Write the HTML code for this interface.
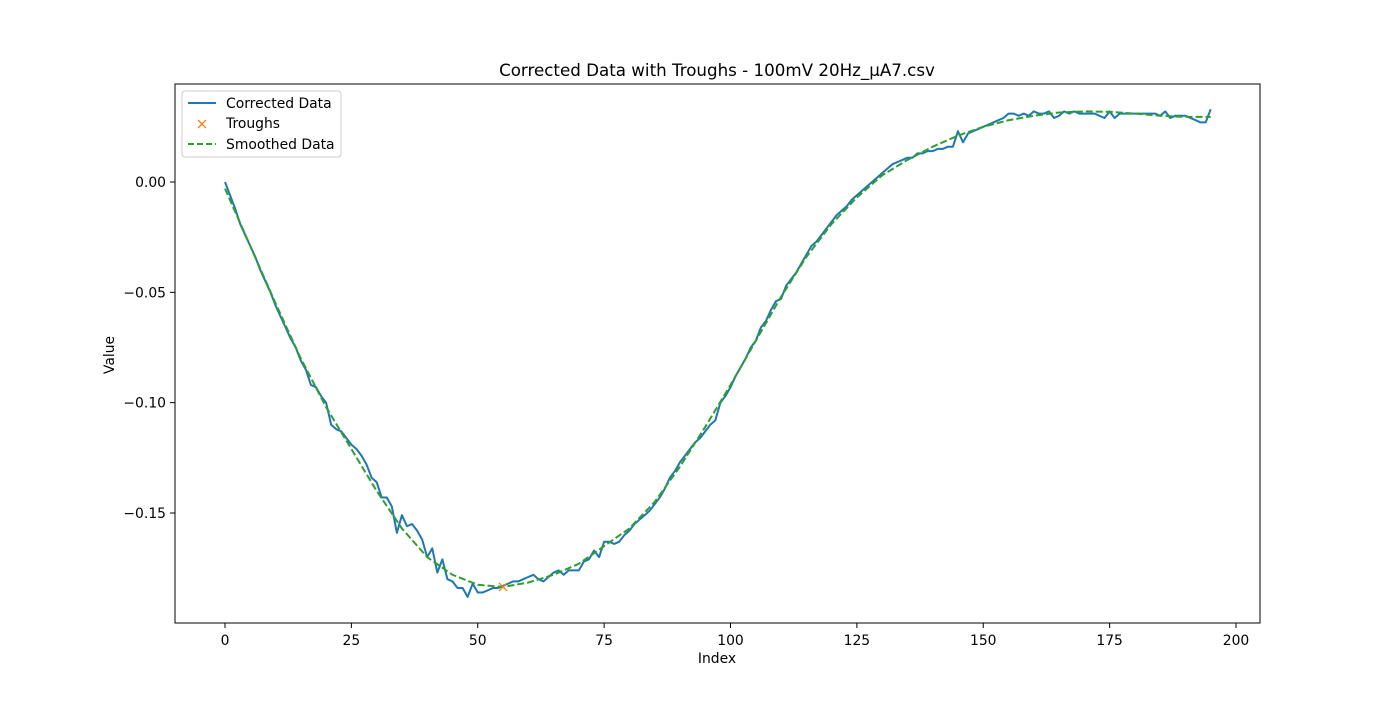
<!DOCTYPE html>
<html><head><meta charset="utf-8"><style>
body{margin:0;background:#fff;}
svg text{font-family:"DejaVu Sans","Liberation Sans",sans-serif;fill:#000;}
</style></head><body>
<svg id="chart" width="1400" height="700" xmlns="http://www.w3.org/2000/svg">
<rect width="1400" height="700" fill="#fff"/>
<text x="717" y="76" font-size="16.7" text-anchor="middle">Corrected Data with Troughs - 100mV 20Hz_µA7.csv</text>
<g id="series"></g>
<rect x="175" y="84" width="1085" height="539" fill="none" stroke="#000" stroke-width="1"/>
<g id="ticks"></g>
<text x="717" y="663" font-size="13.9" text-anchor="middle">Index</text>
<text x="114" y="355" font-size="13.9" text-anchor="middle" transform="rotate(-90 114 355)">Value</text>
<g>
<rect x="182" y="91" width="159" height="66" rx="3" fill="#fff" fill-opacity="0.8" stroke="#ccc"/>
<line x1="188" y1="103" x2="216" y2="103" stroke="#1f77b4" stroke-width="2"/>
<text x="226" y="108" font-size="13.9">Corrected Data</text>
<path d="M198,120L206,128M198,128L206,120" stroke="#ff7f0e" stroke-width="1.3"/>
<text x="226" y="128" font-size="13.9">Troughs</text>
<line x1="188" y1="144" x2="216" y2="144" stroke="#2ca02c" stroke-width="2" stroke-dasharray="6,3"/>
<text x="226" y="149" font-size="13.9">Smoothed Data</text>
</g>
</svg>
<script>
const corrected=[0.000,-0.006,-0.012,-0.019,-0.024,-0.029,-0.034,-0.040,-0.045,-0.050,
-0.056,-0.061,-0.066,-0.071,-0.075,-0.081,-0.085,-0.092,-0.093,-0.097,
-0.100,-0.110,-0.112,-0.113,-0.116,-0.119,-0.121,-0.124,-0.128,-0.134,
-0.136,-0.143,-0.143,-0.147,-0.159,-0.151,-0.156,-0.155,-0.158,-0.162,
-0.170,-0.166,-0.177,-0.171,-0.180,-0.181,-0.184,-0.184,-0.188,-0.182,
-0.186,-0.186,-0.185,-0.184,-0.184,-0.183,-0.182,-0.181,-0.181,-0.180,
-0.179,-0.178,-0.180,-0.181,-0.179,-0.177,-0.176,-0.178,-0.176,-0.176,
-0.176,-0.172,-0.171,-0.167,-0.170,-0.163,-0.163,-0.164,-0.163,-0.160,
-0.158,-0.155,-0.153,-0.151,-0.149,-0.146,-0.143,-0.139,-0.134,-0.131,
-0.127,-0.124,-0.121,-0.118,-0.116,-0.113,-0.110,-0.108,-0.100,-0.097,
-0.093,-0.088,-0.084,-0.080,-0.075,-0.072,-0.066,-0.063,-0.058,-0.054,
-0.053,-0.047,-0.044,-0.041,-0.037,-0.033,-0.029,-0.027,-0.024,-0.021,
-0.018,-0.015,-0.013,-0.011,-0.008,-0.006,-0.004,-0.002,0.000,0.002,
0.004,0.006,0.008,0.009,0.010,0.011,0.011,0.013,0.013,0.014,
0.014,0.015,0.015,0.016,0.016,0.023,0.018,0.022,0.023,0.024,
0.025,0.026,0.027,0.028,0.029,0.031,0.031,0.030,0.031,0.030,
0.032,0.031,0.031,0.032,0.029,0.030,0.032,0.031,0.032,0.031,
0.031,0.031,0.031,0.030,0.029,0.032,0.029,0.031,0.031,0.031,
0.031,0.031,0.031,0.031,0.031,0.030,0.032,0.029,0.030,0.030,
0.030,0.029,0.028,0.027,0.027,0.033];
const smoothX=[0,5,10,15,20,25,30,35,40,45,50,55,60,65,70,75,80,85,90,95,100,105,110,115,120,125,130,135,140,145,150,155,160,165,170,175,180,185,190,195];
const smoothY=[-0.003,-0.029,-0.055,-0.080,-0.102,-0.121,-0.140,-0.157,-0.170,-0.178,-0.1825,-0.1835,-0.1815,-0.178,-0.173,-0.165,-0.157,-0.145,-0.129,-0.111,-0.092,-0.072,-0.052,-0.034,-0.019,-0.007,0.003,0.010,0.016,0.021,0.025,0.028,0.030,0.0315,0.032,0.0318,0.031,0.030,0.0295,0.0295];
const troughX=[55];
const troughY=[-0.1835];
const xTicks=[0,25,50,75,100,125,150,175,200];
const yTicks=[0,-0.05,-0.10,-0.15];
const yTickLabels=["0.00","\u22120.05","\u22120.10","\u22120.15"];

const NS="http://www.w3.org/2000/svg";
const sx=v=>225+v*(1236-225)/200;
const sy=v=>182-v*2206.7;
function mk(tag,attrs,parent){const e=document.createElementNS(NS,tag);for(const k in attrs)e.setAttribute(k,attrs[k]);parent.appendChild(e);return e;}
const ticks=document.getElementById('ticks'), series=document.getElementById('series');
xTicks.forEach(t=>{
  const l=mk('line',{x1:sx(t),x2:sx(t),y1:623,y2:628,stroke:'#000'},ticks);
  
  
  const tx=mk('text',{x:sx(t),y:645,'font-size':13.9,'text-anchor':'middle'},ticks);
  tx.textContent=String(t);
  
  
});
yTicks.forEach((t,i)=>{
  const l=mk('line',{x1:170,x2:175,y1:sy(t),y2:sy(t),stroke:'#000'},ticks);
  
  
  const tx=mk('text',{x:166,y:sy(t)+5,'font-size':13.9,'text-anchor':'end'},ticks);
  tx.textContent=yTickLabels[i];
  
  
});
const p1=mk('polyline',{points:corrected.map((v,i)=>sx(i)+','+sy(v)).join(' '),fill:'none',stroke:'#1f77b4','stroke-width':2,'stroke-linejoin':'round'},series);


const p2=mk('polyline',{points:smoothX.map((x,i)=>sx(x)+','+sy(smoothY[i])).join(' '),fill:'none',stroke:'#2ca02c','stroke-width':2,'stroke-dasharray':'7,3'},series);


troughX.forEach((x,i)=>{
  const cx=sx(x),cy=sy(troughY[i]);
  const m=mk('path',{d:`M${cx-4},${cy-4}L${cx+4},${cy+4}M${cx-4},${cy+4}L${cx+4},${cy-4}`,stroke:'#ff7f0e','stroke-width':1.3,fill:'none'},series);
  
  
});
</script>
</body></html>
